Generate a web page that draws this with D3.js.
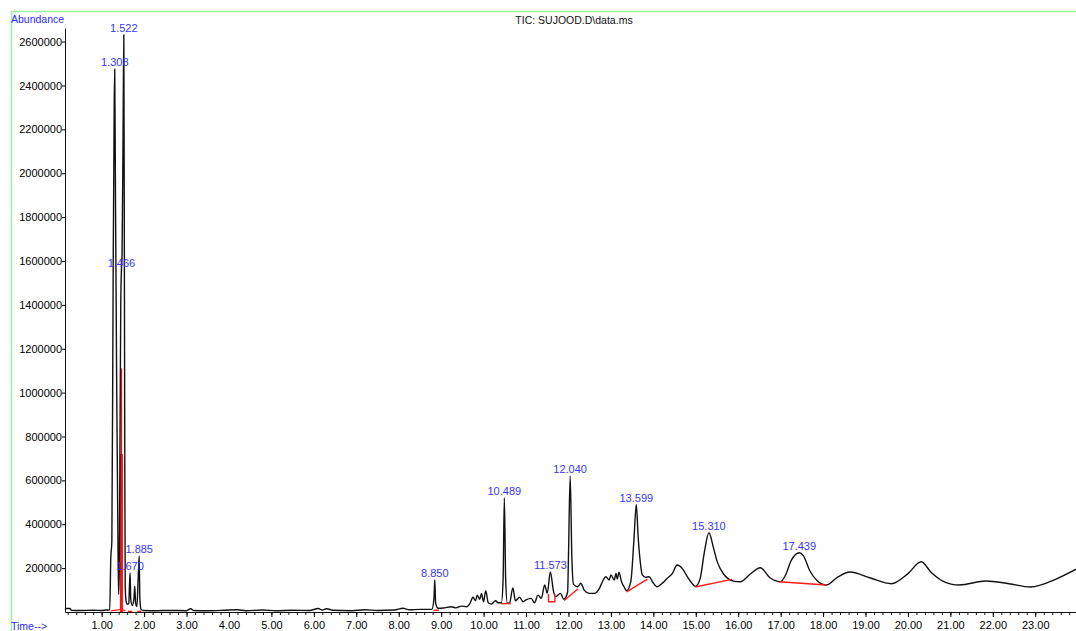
<!DOCTYPE html>
<html>
<head>
<meta charset="utf-8">
<script src="https://cdn.jsdelivr.net/npm/d3@7"></script>
<style>
  html, body { margin: 0; padding: 0; background: #fff; }
  svg { display: block; font-family: "Liberation Sans", Arial, sans-serif; }
  .tick text { font-size: 11px; fill: #000; }
  .peak-label { font-size: 11px; fill: #3535ff; }
  .blue-label { font-size: 10.5px; fill: #2a2aff; }
</style>
</head>
<body>
<svg id="tic" width="1076" height="631"></svg>
<script>
// Data: [time (min), abundance]
const ticPoints = [
  [0.14, 9000], [0.16, 16000], [0.26, 16000], [0.28, 8000], [0.5, 7000], [0.8, 8000], [1.0, 7000],
  [1.1, 9000], [1.19, 10000], [1.215, 246000], [1.24, 320000], [1.27, 1500000], [1.295, 2300000],
  [1.308, 2474000], [1.325, 1900000], [1.355, 1000000], [1.385, 300000], [1.40, 80000], [1.415, 200000],
  [1.43, 700000], [1.45, 1400000], [1.466, 1560000], [1.48, 1620000], [1.505, 2200000], [1.522, 2630000],
  [1.535, 1600000], [1.545, 700000], [1.555, 120000], [1.575, 50000], [1.61, 35000], [1.64, 40000],
  [1.655, 120000], [1.670, 178000], [1.685, 60000], [1.72, 30000], [1.76, 60000], [1.78, 118000],
  [1.80, 40000], [1.83, 25000], [1.86, 150000], [1.885, 255000], [1.90, 60000], [1.93, 12000],
  [1.98, 7000], [2.3, 6000], [2.6, 7000], [3.0, 6000], [3.1, 15000], [3.16, 7000], [3.5, 6000],
  [3.9, 8000], [4.2, 10000], [4.4, 6000], [4.8, 9000], [5.1, 6000], [5.5, 8000], [5.9, 7000],
  [6.1, 16000], [6.2, 9000], [6.3, 15000], [6.45, 8000], [6.9, 6000], [7.2, 10000], [7.5, 7000],
  [7.9, 9000], [8.1, 17000], [8.25, 10000], [8.5, 12000], [8.78, 12000], [8.83, 60000], [8.85, 147000],
  [8.87, 40000], [8.93, 17000], [9.05, 18000], [9.24, 24000], [9.35, 19000], [9.48, 27000], [9.6, 24000],
  [9.68, 40000], [9.75, 67000], [9.81, 51000], [9.85, 77000], [9.91, 58000], [9.95, 85000], [10.0, 47000],
  [10.05, 97000], [10.11, 42000], [10.18, 36000], [10.28, 51000], [10.34, 42000], [10.42, 42000],
  [10.46, 150000], [10.489, 521000], [10.52, 150000], [10.56, 40000], [10.61, 40000], [10.69, 110000],
  [10.75, 51000], [10.85, 67000], [10.93, 47000], [11.0, 55000], [11.12, 62000], [11.20, 42000],
  [11.28, 77000], [11.36, 62000], [11.44, 123000], [11.50, 85000], [11.573, 182000], [11.65, 92000],
  [11.70, 70000], [11.81, 85000], [11.89, 58000], [11.98, 90000], [12.0, 250000], [12.04, 620000],
  [12.08, 250000], [12.12, 126000], [12.22, 115000], [12.29, 131000], [12.37, 100000], [12.49, 85000],
  [12.61, 85000], [12.73, 108000], [12.80, 138000], [12.88, 161000], [12.96, 146000], [13.00, 169000],
  [13.08, 146000], [13.12, 176000], [13.15, 150000], [13.19, 181000], [13.25, 138000], [13.31, 115000],
  [13.37, 97000], [13.47, 140000], [13.54, 320000], [13.599, 490000], [13.64, 350000], [13.69, 232000],
  [13.74, 169000], [13.82, 158000], [13.90, 161000], [13.98, 138000], [14.09, 115000], [14.21, 131000],
  [14.33, 154000], [14.45, 176000], [14.56, 214000], [14.68, 199000], [14.80, 161000], [14.91, 131000],
  [14.99, 117000], [15.1, 150000], [15.2, 270000], [15.31, 361000], [15.42, 290000], [15.50, 232000],
  [15.66, 172000], [15.89, 141000], [16.05, 138000], [16.28, 172000], [16.52, 202000], [16.75, 156000],
  [16.99, 138000], [17.12, 170000], [17.25, 235000], [17.35, 262000], [17.439, 270000], [17.53, 258000],
  [17.69, 187000], [17.85, 145000], [18.08, 123000], [18.35, 160000], [18.63, 182000], [19.10, 156000],
  [19.61, 129000], [20.0, 175000], [20.31, 229000], [20.55, 180000], [20.82, 141000], [21.21, 123000],
  [21.84, 141000], [22.38, 129000], [22.89, 114000], [23.49, 150000], [23.96, 195000]
];

// labelled peaks: [time, abundance at top]
const peaks = [
  [1.308, 2474000], [1.522, 2630000], [1.466, 1560000], [1.670, 178000], [1.885, 255000],
  [8.850, 147000], [10.489, 521000], [11.573, 182000], [12.040, 620000], [13.599, 490000],
  [15.310, 361000], [17.439, 270000]
];
const peakText = ['1.308', '1.522', '1.466', '1.670', '1.885', '8.850', '10.489', '11.573',
  '12.040', '13.599', '15.310', '17.439'];

// integration baselines (red)
const redBaselines = [
  [[1.215, 5000], [1.466, 12000], [1.56, 5000]],
  [[1.62, 3000], [1.72, 3000]],
  [[1.84, 3000], [1.93, 3000]],
  [[8.82, 8000], [8.95, 8000]],
  [[10.41, 38000], [10.64, 38000]],
  [[11.53, 82000], [11.53, 47000], [11.68, 47000], [11.68, 82000]],
  [[11.90, 52000], [12.22, 105000]],
  [[13.37, 92000], [13.86, 150000]],
  [[14.99, 114000], [15.85, 149000]],
  [[16.97, 138000], [18.08, 123000]]
];
const dropLine = [[1.466, 0], [1.466, 1110000]];
const dropLineThick = [[1.466, 0], [1.466, 720000]];

const xTicks = d3.range(1, 24);
const yTicks = [200000, 400000, 600000, 800000, 1000000, 1200000, 1400000, 1600000,
  1800000, 2000000, 2200000, 2400000, 2600000];

const svg = d3.select('#tic');
const plotLeft = 65, plotRight = 1076, plotTop = 28, plotBottom = 612;

const x = d3.scaleLinear().domain([0.136, 23.96]).range([plotLeft, plotRight]);
const y = d3.scaleLinear().domain([0, 2662000]).range([plotBottom, plotTop]);

// green frame
svg.append('line').attr('x1', 11).attr('x2', 1076).attr('y1', 11.5).attr('y2', 11.5)
  .attr('stroke', '#9cf29c').attr('stroke-width', 1.5);
svg.append('line').attr('x1', 11.5).attr('x2', 11.5).attr('y1', 11).attr('y2', 631)
  .attr('stroke', '#9cf29c').attr('stroke-width', 1.5);

// axes
const xMinor = svg.append('g')
  .attr('transform', `translate(0,${plotBottom})`)
  .call(d3.axisBottom(x).tickValues(d3.range(0.2, 24, 0.2)).tickSize(3).tickFormat(''));
xMinor.select('.domain').remove();
xMinor.selectAll('line').attr('stroke', '#111');

const xAxis = svg.append('g')
  .attr('transform', `translate(0,${plotBottom})`)
  .call(d3.axisBottom(x).tickValues(xTicks).tickSize(5).tickSizeOuter(0).tickFormat(d3.format('.2f')));
xAxis.selectAll('text').attr('y', 9).attr('dy', '0.71em');
xAxis.select('.domain').attr('stroke', '#111');

const yAxis = svg.append('g')
  .attr('transform', `translate(${plotLeft},0)`)
  .call(d3.axisLeft(y).tickValues(yTicks).tickSize(3).tickPadding(0).tickSizeOuter(0).tickFormat(d => d));
yAxis.select('.domain').attr('stroke', '#111');

// red drop line
const line = d3.line().x(d => x(d[0])).y(d => y(d[1]));
svg.append('path').attr('d', line(dropLineThick)).attr('stroke', '#ff1010')
  .attr('stroke-width', 3).attr('fill', 'none');
svg.append('path').attr('d', line(dropLine)).attr('stroke', '#ff1010')
  .attr('stroke-width', 1.5).attr('fill', 'none');

// trace
svg.append('path')
  .datum(ticPoints)
  .attr('d', d3.line().x(d => x(d[0])).y(d => y(d[1])).curve(d3.curveMonotoneX))
  .attr('fill', 'none')
  .attr('stroke', '#111')
  .attr('stroke-width', 1.4);

svg.selectAll('.red-base')
  .data(redBaselines)
  .enter()
  .append('path')
  .attr('class', 'red-base')
  .attr('d', d => line(d))
  .attr('fill', 'none')
  .attr('stroke', '#ff1a1a')
  .attr('stroke-width', 1.4);

// peak labels
svg.selectAll('.peak-label')
  .data(peaks)
  .enter()
  .append('text')
  .attr('class', 'peak-label')
  .attr('x', d => x(d[0]))
  .attr('y', d => y(d[1]) - 3)
  .attr('text-anchor', 'middle')
  .text((d, i) => peakText[i]);

// texts
svg.append('text').attr('class', 'blue-label').attr('x', 11).attr('y', 23).text('Abundance');
svg.append('text').attr('class', 'blue-label').attr('x', 11).attr('y', 630).text('Time-->');
svg.append('text').attr('x', 574).attr('y', 24).attr('text-anchor', 'middle')
  .attr('font-size', 10.5).attr('fill', '#111').text('TIC: SUJOOD.D\\data.ms');
</script>
</body>
</html>
